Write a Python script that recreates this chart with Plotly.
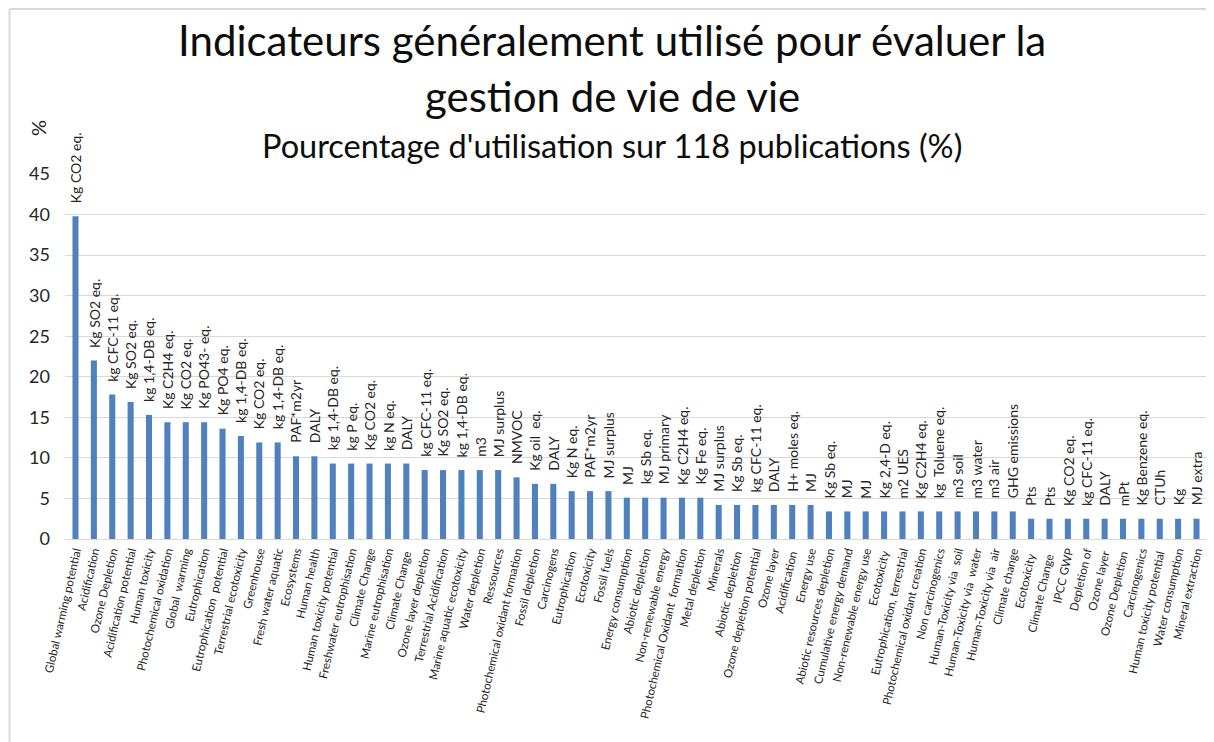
import plotly.graph_objects as go

categories = [
    "Global warming potential", "Acidification", "Ozone Depletion", "Acidification potential",
    "Human toxicity", "Photochemical oxidation", "Global  warming", "Eutrophication",
    "Eutrophication  potential", "Terrestrial ecotoxicity", "Greenhouse", "Fresh water aquatic",
    "Ecosystems", "Human health", "Human toxicity potential", "Freshwater eutrophisation",
    "Climate Change", "Marine eutrophisation", "Climate Change ", "Ozone layer depletion",
    "Terrestrial Acidification", "Marine aquatic ecotoxicity", "Water depletion", "Ressources",
    "Photochemical oxidant formation", "Fossil depletion", "Carcinogens", "Eutrophication ",
    "Ecotoxicity", "Fossil fuels", "Energy consumption", "Abiotic depletion",
    "Non-renewable energy", "Photochemical Oxidant  formation", "Metal depletion", "Minerals",
    "Abiotic depletion ", "Ozone depletion potential", "Ozone layer", "Acidification ",
    "Energy use", "Abiotic resources depletion", "Cumulative energy demand", "Non-renewable energy use",
    "Ecotoxicity ", "Eutrophication, terrestrial", "Photochemical oxidant creation", "Non carcinogenics",
    "Human-Toxicity via  soil", "Human-Toxicity via  water", "Human-Toxicity via  air", "Climate change",
    "Ecotoxicity  ", "Climate Change  ", "IPCC GWP", "Depletion of",
    "Ozone layer ", "Ozone Depletion ", "Carcinogenics", "Human toxicity potential ",
    "Water consumption", "Mineral extraction",
]

units = [
    "Kg CO2 eq.", "Kg SO2 eq.", "kg CFC-11 eq.", "Kg SO2 eq.",
    "kg 1,4-DB eq.", "Kg C2H4 eq.", "Kg CO2 eq.", "Kg PO43- eq.",
    "Kg PO4 eq.", "kg 1,4-DB eq.", "Kg CO2 eq.", "kg 1,4-DB eq.",
    "PAF*m2yr", "DALY", "kg 1,4-DB eq.", "kg P eq.",
    "Kg CO2 eq.", "kg N eq.", "DALY", "kg CFC-11 eq.",
    "Kg SO2 eq.", "kg 1,4-DB eq.", "m3", "MJ surplus",
    "NMVOC", "Kg oil  eq.", "DALY", "Kg N eq.",
    "PAF*m2yr", "MJ surplus", "MJ", "kg Sb eq.",
    "MJ primary", "Kg C2H4 eq.", "Kg Fe eq.", "MJ surplus",
    "Kg Sb eq.", "kg CFC-11 eq.", "DALY", "H+ moles eq.",
    "MJ", "Kg Sb eq.", "MJ", "MJ",
    "Kg 2,4-D eq.", "m2 UES", "Kg C2H4 eq.", "kg  Toluene eq.",
    "m3 soil", "m3 water", "m3 air", "GHG emissions",
    "Pts", "Pts", "Kg CO2 eq.", "kg CFC-11 eq.",
    "DALY", "mPt", "Kg Benzene eq.", "CTUh",
    "Kg", "MJ extra",
]

values = [
    39.8, 22.0, 17.8, 16.9,
    15.3, 14.4, 14.4, 14.4,
    13.6, 12.7, 11.9, 11.9,
    10.2, 10.2, 9.3, 9.3,
    9.3, 9.3, 9.3, 8.5,
    8.5, 8.5, 8.5, 8.5,
    7.6, 6.8, 6.8, 5.9,
    5.9, 5.9, 5.1, 5.1,
    5.1, 5.1, 5.1, 4.2,
    4.2, 4.2, 4.2, 4.2,
    4.2, 3.4, 3.4, 3.4,
    3.4, 3.4, 3.4, 3.4,
    3.4, 3.4, 3.4, 3.4,
    2.5, 2.5, 2.5, 2.5,
    2.5, 2.5, 2.5, 2.5,
    2.5, 2.5,
]

y_ticks = [0, 5, 10, 15, 20, 25, 30, 35, 40, 45]

title_lines = ["Indicateurs généralement utilisé pour évaluer la", "gestion de vie de vie"]
subtitle = "Pourcentage d'utilisation sur 118 publications (%)"
y_title = "%"

FONT = "Lato"
TXT = "#262626"

# page body has an 8px margin: figure is drawn 8px in from the window edge
W, H = 1206, 734
L, R, T, B = 57, 7, 166, 203
PW, PH = W - L - R, H - T - B


def px_x(px):
    return (px - L) / PW


def px_y(py):
    return (H - B - py) / PH


fig = go.Figure(go.Bar(
    x=categories,
    y=values,
    marker=dict(color="#4F81BD", line=dict(width=0)),
    hoverinfo="x+y",
))

annotations = []
for c, v, u in zip(categories, values, units):
    annotations.append(dict(
        x=c, y=v, xref="x", yref="y", text=u, textangle=-90,
        xanchor="center", yanchor="bottom", yshift=11, showarrow=False,
        font=dict(family=FONT, size=14, color=TXT),
    ))

annotations += [
    dict(text=title_lines[0], xref="paper", yref="paper", x=0.479, y=px_y(32),
         xanchor="center", yanchor="middle", showarrow=False,
         font=dict(family=FONT, size=42, color="#0d0d0d")),
    dict(text=title_lines[1], xref="paper", yref="paper", x=0.479, y=px_y(88),
         xanchor="center", yanchor="middle", showarrow=False,
         font=dict(family=FONT, size=42, color="#0d0d0d")),
    dict(text=subtitle, xref="paper", yref="paper", x=0.479, y=px_y(137),
         xanchor="center", yanchor="middle", showarrow=False,
         font=dict(family=FONT, size=32.5, color="#0d0d0d")),
    dict(text=y_title, xref="paper", yref="paper", x=px_x(30), y=px_y(120),
         xanchor="center", yanchor="middle", showarrow=False, textangle=-90,
         font=dict(family=FONT, size=20, color=TXT)),
]

fig.update_layout(
    width=W, height=H,
    paper_bgcolor="white", plot_bgcolor="white",
    margin=dict(l=L, r=R, t=T, b=B),
    bargap=0.67,
    showlegend=False,
    font=dict(family=FONT, color=TXT),
    xaxis=dict(
        type="category",
        tickangle=-77,
        tickfont=dict(family=FONT, size=11.6, color=TXT),
        showline=True, linecolor="#d9d9d9", linewidth=1,
        showgrid=False, ticks="",
        automargin=False,
    ),
    yaxis=dict(
        range=[0, 45],
        tickvals=y_ticks,
        tickfont=dict(family=FONT, size=18, color=TXT),
        showgrid=True, gridcolor="#d9d9d9", gridwidth=1,
        zeroline=False, showline=False, ticks="",
        ticklabelstandoff=14,
        automargin=False,
    ),
    annotations=annotations,
    shapes=[
        dict(type="line", xref="paper", yref="paper",
             x0=px_x(1.5), x1=px_x(W + 5), y0=px_y(1), y1=px_y(1),
             line=dict(color="#d9d9d9", width=2)),
        dict(type="line", xref="paper", yref="paper",
             x0=px_x(1.5), x1=px_x(1.5), y0=px_y(H + 5), y1=px_y(1),
             line=dict(color="#d9d9d9", width=2)),
    ],
)

fig.write_html("out.html")
